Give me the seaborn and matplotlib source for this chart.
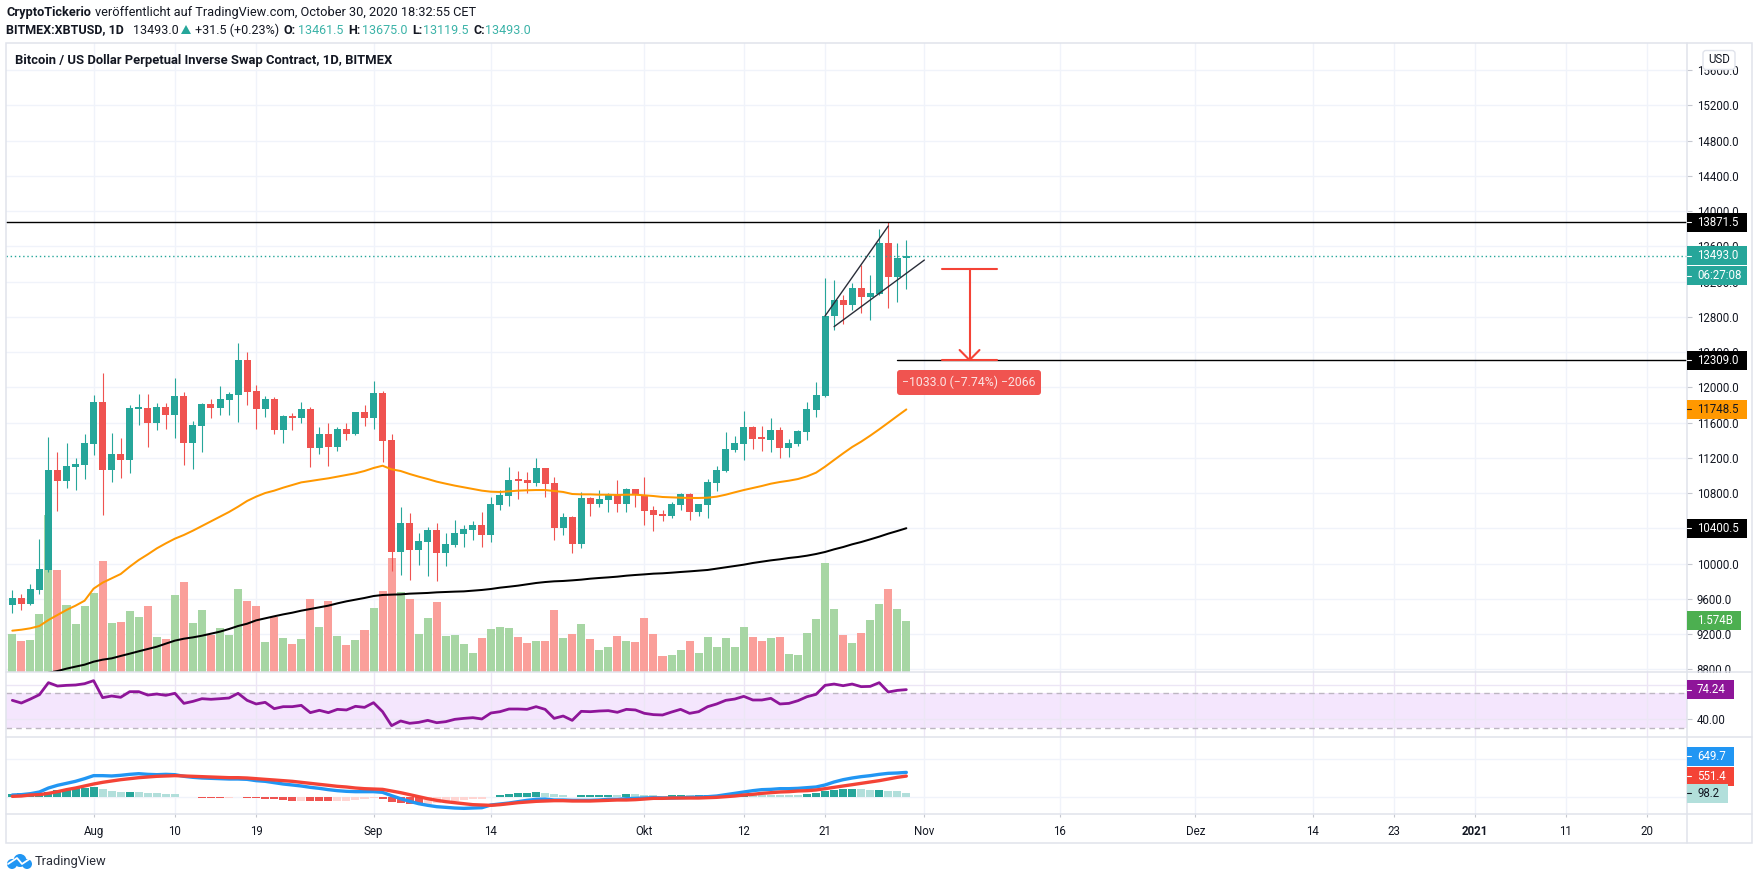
"""Recreate the XBTUSD daily TradingView chart with candles, volume, RSI and MACD."""

from __future__ import annotations

import matplotlib

matplotlib.use("Agg")
import matplotlib.pyplot as plt
import numpy as np
import pandas as pd
import seaborn as sns
from matplotlib.lines import Line2D
from matplotlib.patches import Circle, FancyBboxPatch, Polygon, Rectangle
from matplotlib.transforms import IdentityTransform

sns.set_theme(style="white")
plt.rcParams["font.family"] = ["Roboto", "DejaVu Sans"]

WIDTH, HEIGHT = 1758, 880
LEFT, RIGHT, FRAME_RIGHT = 6, 1687, 1752
TOP, MAIN_BOTTOM, RSI_BOTTOM, MACD_BOTTOM, FRAME_BOTTOM = 43, 672, 737, 814, 843
XLIM = (-0.70, 185.45)
PRICE_LIM = (8769, 15907)
VOLUME_TOP = 19.41

UP, DOWN = "#26a69a", "#ef5350"
GRID, BORDER, INK = "#f0f3fa", "#e0e3eb", "#131722"

# open, high, low, close, starting 23 Jul 2020
OHLC = [
    (9529, 9700, 9438, 9609), (9609, 9654, 9473, 9541), (9541, 9768, 9529, 9711),
    (9700, 10278, 9654, 9938), (9927, 11436, 9900, 11061), (11061, 11266, 10596, 10936),
    (10936, 11368, 10857, 11107), (11095, 11197, 10834, 11129), (11118, 11470, 10959, 11368),
    (11356, 11912, 11232, 11833), (11833, 12162, 10551, 11061), (11061, 11481, 10925, 11243),
    (11243, 11424, 10970, 11175), (11175, 11799, 11027, 11765), (11754, 11924, 11572, 11765),
    (11765, 11924, 11322, 11595), (11595, 11822, 11515, 11776), (11776, 11822, 11527, 11685),
    (11685, 12105, 11424, 11901), (11901, 11946, 11118, 11368), (11368, 11617, 11073, 11572),
    (11561, 11822, 11266, 11810), (11810, 11867, 11651, 11765), (11765, 12015, 11685, 11867),
    (11856, 11946, 11685, 11924), (11912, 12503, 11606, 12310), (12310, 12400, 11799, 11946),
    (11958, 12026, 11527, 11754), (11754, 11901, 11663, 11867), (11867, 11890, 11470, 11515),
    (11515, 11685, 11368, 11674), (11674, 11708, 11515, 11651), (11651, 11833, 11595, 11754),
    (11754, 11776, 11095, 11311), (11311, 11549, 11243, 11470), (11470, 11595, 11107, 11322),
    (11322, 11549, 11277, 11527), (11527, 11595, 11402, 11470), (11470, 11720, 11458, 11720),
    (11720, 11799, 11561, 11651), (11651, 12071, 11527, 11935), (11935, 11958, 11152, 11390),
    (11402, 11470, 9915, 10131), (10131, 10641, 9870, 10460), (10460, 10573, 9813, 10154),
    (10154, 10346, 9983, 10256), (10244, 10414, 9858, 10380), (10380, 10460, 9802, 10119),
    (10119, 10346, 9972, 10222), (10210, 10494, 10190, 10346), (10335, 10437, 10188, 10392),
    (10380, 10483, 10267, 10437), (10437, 10585, 10188, 10324), (10324, 10755, 10244, 10675),
    (10664, 10834, 10607, 10778), (10766, 11095, 10653, 10948), (10948, 11050, 10732, 10936),
    (10948, 11039, 10800, 10914), (10914, 11197, 10880, 11084), (11084, 11084, 10755, 10902),
    (10914, 10982, 10267, 10403), (10403, 10573, 10324, 10528), (10528, 10539, 10119, 10222),
    (10222, 10812, 10176, 10744), (10744, 10755, 10539, 10675), (10675, 10834, 10641, 10732),
    (10721, 10800, 10585, 10778), (10778, 10948, 10585, 10675), (10675, 10857, 10585, 10846),
    (10846, 10846, 10641, 10778), (10778, 10982, 10437, 10596), (10607, 10653, 10369, 10551),
    (10562, 10607, 10483, 10539), (10539, 10698, 10517, 10675), (10664, 10800, 10607, 10789),
    (10789, 10800, 10494, 10585), (10585, 10675, 10539, 10675), (10664, 10959, 10517, 10925),
    (10914, 11107, 10823, 11061), (11050, 11493, 11040, 11300), (11288, 11447, 11266, 11368),
    (11356, 11731, 11175, 11549), (11549, 11561, 11300, 11413), (11424, 11561, 11277, 11413),
    (11402, 11651, 11266, 11515), (11515, 11549, 11197, 11311), (11311, 11413, 11209, 11368),
    (11356, 11515, 11334, 11504), (11493, 11833, 11402, 11754), (11742, 12060, 11663, 11912),
    (11901, 13240, 11893, 12809), (12809, 13217, 12650, 12990), (12990, 13047, 12718, 12934),
    (12934, 13180, 12877, 13127), (13127, 13388, 12847, 13025), (13025, 13274, 12764, 13070),
    (13059, 13796, 13050, 13637), (13637, 13871.5, 12900, 13251), (13251, 13637, 12968, 13467),
    (13461.5, 13675, 13119.5, 13493),
]

VOLUME = [
    1.173, 0.957, 0.988, 1.790, 4.845, 3.148, 2.068, 1.481, 2.037, 2.438,
    3.426, 1.512, 1.543, 1.883, 1.697, 2.037, 1.080, 1.018, 2.376, 2.777,
    1.512, 1.913, 1.142, 1.358, 1.142, 2.561, 2.191, 2.037, 0.926, 1.697,
    1.049, 0.864, 1.018, 2.253, 1.389, 2.191, 1.111, 0.833, 0.988, 1.296,
    1.975, 2.500, 3.518, 2.469, 2.253, 1.173, 1.666, 2.160, 1.111, 1.142,
    0.864, 0.586, 1.049, 1.327, 1.389, 1.358, 1.080, 0.895, 0.957, 0.957,
    1.913, 1.049, 1.173, 1.481, 1.018, 0.679, 0.772, 1.111, 0.957, 0.926,
    1.666, 1.173, 0.494, 0.525, 0.679, 0.957, 0.586, 1.080, 0.772, 1.049,
    0.772, 1.389, 1.080, 0.957, 1.049, 1.080, 0.556, 0.525, 1.204, 1.636,
    3.364, 1.944, 1.142, 0.895, 1.204, 1.605, 2.099, 2.561, 1.944, 1.574,
]

EMA_50 = [
    9238, 9249, 9265, 9291, 9359, 9416, 9473, 9522, 9578, 9715,
    9783, 9832, 9881, 9964, 10040, 10104, 10172, 10229, 10282, 10324,
    10373, 10426, 10479, 10532, 10585, 10645, 10710, 10759, 10800, 10827,
    10861, 10891, 10921, 10936, 10952, 10967, 10986, 11005, 11024, 11050,
    11084, 11110, 11069, 11050, 11016, 10986, 10959, 10929, 10906, 10884,
    10865, 10846, 10827, 10815, 10812, 10819, 10827, 10831, 10834, 10834,
    10823, 10812, 10789, 10785, 10785, 10781, 10781, 10778, 10781, 10781,
    10774, 10766, 10755, 10751, 10747, 10744, 10744, 10747, 10759, 10781,
    10808, 10834, 10857, 10880, 10906, 10925, 10940, 10959, 10989, 11031,
    11099, 11175, 11250, 11322, 11383, 11451, 11523, 11598, 11674, 11748.5,
]

# the first days of the long average sit under the pane
EMA_200 = [
    np.nan, np.nan, np.nan, np.nan, 8761, 8780, 8807, 8830, 8852, 8886,
    8909, 8924, 8951, 8977, 9004, 9030, 9056, 9091, 9125, 9147,
    9162, 9181, 9204, 9227, 9257, 9291, 9317, 9355, 9378, 9401,
    9423, 9442, 9465, 9484, 9503, 9522, 9548, 9571, 9590, 9609,
    9631, 9643, 9647, 9650, 9658, 9662, 9666, 9673, 9677, 9681,
    9684, 9692, 9700, 9711, 9726, 9737, 9749, 9764, 9779, 9790,
    9798, 9802, 9809, 9817, 9828, 9836, 9843, 9851, 9862, 9870,
    9877, 9885, 9889, 9896, 9904, 9911, 9919, 9927, 9942, 9957,
    9972, 9987, 10006, 10021, 10036, 10048, 10063, 10074, 10089, 10108,
    10131, 10161, 10187, 10218, 10244, 10274, 10305, 10339, 10369, 10400.5,
]

RSI = [
    61.9, 58.8, 63.4, 68.4, 82.3, 78.4, 79.2, 79.6, 81.1, 84.6,
    65.0, 66.9, 65.4, 71.9, 71.9, 68.0, 69.2, 67.7, 70.0, 58.4,
    60.7, 63.8, 63.1, 63.8, 64.6, 70.0, 61.9, 57.7, 59.6, 52.3,
    54.6, 54.6, 56.1, 47.7, 50.4, 47.7, 51.5, 50.8, 55.0, 53.8,
    59.2, 48.8, 32.7, 38.1, 35.4, 36.5, 38.8, 36.1, 37.3, 40.0,
    41.1, 41.9, 40.4, 47.3, 48.8, 51.9, 51.9, 51.5, 54.6, 51.5,
    41.1, 43.8, 38.8, 49.2, 48.8, 49.6, 50.0, 48.1, 51.5, 50.8,
    46.9, 45.4, 45.0, 48.4, 51.5, 46.9, 48.8, 54.6, 57.7, 61.9,
    63.4, 66.5, 62.3, 62.3, 64.2, 57.7, 58.4, 61.5, 66.1, 68.8,
    79.2, 80.7, 78.8, 80.7, 77.7, 78.0, 82.3, 71.5, 73.4, 74.24,
]

MACD = [
    45, 54, 80, 125, 232, 304, 357, 411, 482, 563,
    563, 554, 572, 598, 616, 598, 589, 598, 589, 545,
    518, 500, 491, 482, 473, 473, 464, 429, 411, 375,
    339, 313, 286, 250, 223, 188, 161, 143, 134, 134,
    134, 116, 27, -54, -125, -188, -232, -268, -286, -304,
    -313, -304, -295, -223, -196, -170, -134, -98, -71, -63,
    -89, -89, -98, -98, -98, -89, -71, -71, -54, -45,
    -36, -27, -36, -36, -27, -18, -9, 0, 18, 54,
    89, 125, 161, 188, 196, 214, 214, 223, 241, 259,
    313, 393, 455, 500, 536, 563, 598, 625, 634, 649.7,
]

SIGNAL = [
    9, 18, 45, 54, 89, 134, 188, 232, 286, 339,
    384, 420, 455, 482, 509, 527, 545, 554, 563, 554,
    545, 536, 527, 518, 509, 509, 500, 482, 464, 447,
    429, 411, 384, 357, 330, 304, 277, 259, 232, 214,
    205, 196, 152, 107, 54, 0, -54, -98, -134, -161,
    -188, -214, -223, -232, -214, -188, -161, -143, -125, -116,
    -107, -107, -116, -116, -116, -107, -98, -89, -89, -80,
    -63, -45, -45, -36, -36, -36, -36, -27, -18, 0,
    18, 45, 63, 89, 107, 125, 134, 152, 161, 179,
    214, 250, 286, 321, 357, 393, 429, 473, 518, 551.4,
]

HISTOGRAM = [
    80, 90, 100, 110, 125, 180, 205, 225, 240, 259,
    205, 152, 125, 130, 125, 98, 95, 71, 68, -10,
    -20, -25, -30, -35, -30, -15, -30, -45, -60, -75,
    -90, -115, -105, -118, -120, -122, -115, -110, -85, -60,
    -40, -55, -150, -170, -195, -200, -195, -170, -125, -110,
    -90, -75, -55, -10, 45, 72, 98, 100, 125, 98,
    72, 45, -10, 45, 47, 49, 50, 45, 72, 70,
    45, 42, 25, 45, 47, 45, 47, 49, 55, 60,
    62, 65, 60, 58, 56, 54, 50, 48, 62, 98,
    152, 180, 205, 206, 200, 180, 182, 155, 150, 98.2,
]

# (bar index, label) for the time axis; index 9 is 1 Aug 2020
TIME_TICKS = [
    (9, "Aug"), (18, "10"), (27, "19"), (40, "Sep"), (53, "14"), (70, "Okt"),
    (81, "12"), (90, "21"), (101, "Nov"), (116, "16"), (131, "Dez"), (144, "14"),
    (153, "23"), (162, "2021"), (172, "11"), (181, "20"),
]


def build_frame() -> pd.DataFrame:
    df = pd.DataFrame(OHLC, columns=["open", "high", "low", "close"])
    df["bar"] = np.arange(len(df))
    df["volume"] = VOLUME
    df["ema50"] = EMA_50
    df["ema200"] = EMA_200
    df["rsi"] = RSI
    df["macd"] = MACD
    df["signal"] = SIGNAL
    df["hist"] = HISTOGRAM
    df["side"] = np.where(df["close"] >= df["open"], "up", "down")
    prev = df["hist"].shift(1, fill_value=0)
    df["shade"] = np.select(
        [
            (df["hist"] >= 0) & (df["hist"] > prev),
            df["hist"] >= 0,
            df["hist"] < prev,
        ],
        ["rise", "fade", "drop"],
        default="ease",
    )
    return df


def add_pane(fig: plt.Figure, top: int, bottom: int) -> plt.Axes:
    ax = fig.add_axes(
        [
            LEFT / WIDTH,
            1 - bottom / HEIGHT,
            (RIGHT - LEFT) / WIDTH,
            (bottom - top) / HEIGHT,
        ]
    )
    ax.set_xlim(*XLIM)
    sns.despine(ax=ax, left=True, bottom=True)
    return ax


def style_pane(ax: plt.Axes, yticks: list[float], labels: list[str]) -> None:
    ax.set_xlim(*XLIM)
    ax.set_xlabel("")
    ax.set_ylabel("")
    ax.set_yticks(yticks)
    ax.set_yticklabels(labels)
    ax.yaxis.tick_right()
    ax.tick_params(
        axis="y",
        right=True,
        left=False,
        length=3.4,
        width=0.8,
        pad=3.6,
        color="#c4c7cf",
        labelcolor=INK,
        labelsize=8.3,
    )
    ax.set_xticks([t for t, _ in TIME_TICKS])
    ax.set_xticklabels([])
    ax.tick_params(axis="x", bottom=False)
    ax.grid(True, color=GRID, lw=1.0)
    ax.set_axisbelow(True)


def px_text(fig: plt.Figure, x: float, y: float, s: str, **kwargs) -> None:
    """Place text by reference pixels, y measured from the top."""
    kwargs.setdefault("va", "center")
    kwargs.setdefault("color", INK)
    kwargs.setdefault("zorder", 7)
    fig.text(x, HEIGHT - y, s, transform=IdentityTransform(), **kwargs)


def price_tag(
    fig: plt.Figure,
    ax: plt.Axes,
    value: float,
    label: str,
    color: str,
    width: int,
    text_color: str = "white",
    shift: float = 0,
) -> None:
    """Coloured tag on the price scale, anchored to a value on that pane's axis."""
    y = ax.transData.transform((0, value))[1] + shift
    fig.add_artist(
        Rectangle(
            (RIGHT, y - 9.5),
            width,
            19,
            facecolor=color,
            edgecolor="none",
            transform=IdentityTransform(),
            zorder=6,
        )
    )
    fig.add_artist(
        Line2D(
            [RIGHT, RIGHT + 4],
            [y, y],
            color=text_color,
            lw=0.8,
            transform=IdentityTransform(),
            zorder=7,
        )
    )
    px_text(fig, RIGHT + 10, HEIGHT - y, label, color=text_color, fontsize=8.3)


def draw_main(fig: plt.Figure, df: pd.DataFrame) -> plt.Axes:
    ax_vol = add_pane(fig, TOP, MAIN_BOTTOM)
    ax_vol.set_zorder(-3)
    sns.barplot(
        data=df,
        x="bar",
        y="volume",
        hue="side",
        palette={"up": "#a7d6a4", "down": "#fa9f9a"},
        dodge=False,
        native_scale=True,
        width=0.89,
        saturation=1,
        linewidth=0,
        errorbar=None,
        legend=False,
        ax=ax_vol,
    )
    ax_vol.set_ylim(0, VOLUME_TOP)
    price_ticks = np.arange(8800, 15601, 400)
    span = PRICE_LIM[1] - PRICE_LIM[0]
    style_pane(ax_vol, list((price_ticks - PRICE_LIM[0]) / span * VOLUME_TOP), [""] * len(price_ticks))
    ax_vol.tick_params(axis="y", right=False, labelright=False)

    ax = add_pane(fig, TOP, MAIN_BOTTOM)
    ax.set_zorder(-2)
    ax.patch.set_visible(False)
    ax.set_ylim(*PRICE_LIM)

    colors = np.where(df["side"] == "up", UP, DOWN)
    ax.vlines(df["bar"], df["low"], df["high"], colors=colors, lw=0.8)
    bottoms = df[["open", "close"]].min(axis=1)
    heights = (df["close"] - df["open"]).abs().clip(lower=22)
    ax.bar(df["bar"], heights, bottom=bottoms, width=0.775, color=colors, lw=0)

    sns.lineplot(data=df, x="bar", y="ema50", color="#ff9800", lw=1.45, estimator=None, ax=ax)
    sns.lineplot(data=df, x="bar", y="ema200", color="#000000", lw=1.45, estimator=None, ax=ax)

    ax.axhline(13871.5, color="black", lw=1.0)
    ax.axhline(13493, color=UP, lw=1.0, ls=(0, (1, 2)))
    ax.plot([98, XLIM[1]], [12309, 12309], color="black", lw=1.0)

    # rising wedge
    ax.plot([90, 97], [12809, 13830], color="#2a2e39", lw=1.0)
    ax.plot([91, 101], [12688, 13444], color="#2a2e39", lw=1.0)

    # measured move
    red = "#f44336"
    ax.plot([103, 109], [13342, 13342], color=red, lw=1.5)
    ax.plot([103, 109], [12309, 12309], color=red, lw=1.5)
    ax.plot([106, 106], [13342, 12309], color=red, lw=1.5)
    ax.plot([104.9, 106, 107.1], [12423, 12309, 12423], color=red, lw=1.5)

    # 10400 is fully behind its tag in the reference, so no label for it
    labels = ["" if t == 10400 else f"{t:.1f}" for t in price_ticks]
    style_pane(ax, list(price_ticks), labels)
    ax.grid(False)
    return ax


def draw_rsi(fig: plt.Figure, df: pd.DataFrame) -> plt.Axes:
    ax = add_pane(fig, MAIN_BOTTOM, RSI_BOTTOM)
    ax.axhspan(30, 70, color="#f4e6fd", lw=0, zorder=0.5)
    ax.axhline(70, color="#bdb6c2", lw=1.0, ls=(0, (4, 3)))
    ax.axhline(30, color="#bdb6c2", lw=1.0, ls=(0, (4, 3)))
    sns.lineplot(data=df, x="bar", y="rsi", color="#8e1599", lw=2.0, estimator=None, ax=ax)
    ax.set_ylim(19.6, 94.6)
    style_pane(ax, [40, 80], ["40.00", ""])
    ax.grid(True, color="#ece6f5", lw=1.0)
    return ax


def draw_macd(fig: plt.Figure, df: pd.DataFrame) -> plt.Axes:
    ax = add_pane(fig, RSI_BOTTOM, MACD_BOTTOM)
    sns.barplot(
        data=df,
        x="bar",
        y="hist",
        hue="shade",
        palette={"rise": UP, "fade": "#b2dfdb", "drop": DOWN, "ease": "#ffd5d2"},
        dodge=False,
        native_scale=True,
        width=0.89,
        saturation=1,
        linewidth=0,
        errorbar=None,
        legend=False,
        ax=ax,
    )
    sns.lineplot(data=df, x="bar", y="macd", color="#2196f3", lw=2.4, estimator=None, ax=ax)
    sns.lineplot(data=df, x="bar", y="signal", color="#f44336", lw=2.4, estimator=None, ax=ax)
    ax.set_ylim(-464, 1598)
    style_pane(ax, [0, 1000], ["", ""])
    ax.set_xticklabels([label for _, label in TIME_TICKS])
    ax.tick_params(
        axis="x",
        bottom=True,
        length=2.2,
        width=0.8,
        color="#c4c7cf",
        pad=6,
        labelsize=8.3,
        labelcolor=INK,
    )
    for label in ax.get_xticklabels():
        if label.get_text() == "2021":
            label.set_fontweight("bold")
    return ax


def draw_frame(fig: plt.Figure) -> None:
    transform = IdentityTransform()
    fig.add_artist(
        Rectangle(
            (RIGHT + 1, HEIGHT - RSI_BOTTOM + 1),
            FRAME_RIGHT - RIGHT - 2,
            RSI_BOTTOM - MAIN_BOTTOM - 2,
            facecolor="white",
            edgecolor="none",
            transform=transform,
            zorder=-1,
        )
    )
    fig.add_artist(
        Rectangle(
            (LEFT, HEIGHT - FRAME_BOTTOM),
            FRAME_RIGHT - LEFT,
            FRAME_BOTTOM - TOP,
            facecolor="none",
            edgecolor=BORDER,
            lw=1.1,
            transform=transform,
            zorder=5,
        )
    )
    for y in (MAIN_BOTTOM, RSI_BOTTOM, MACD_BOTTOM):
        fig.add_artist(
            Line2D(
                [LEFT, FRAME_RIGHT],
                [HEIGHT - y, HEIGHT - y],
                color=BORDER,
                lw=1.1,
                transform=transform,
                zorder=5,
            )
        )
    fig.add_artist(
        Line2D(
            [RIGHT, RIGHT],
            [HEIGHT - FRAME_BOTTOM, HEIGHT - TOP],
            color=BORDER,
            lw=1.1,
            transform=transform,
            zorder=5,
        )
    )


def draw_header(fig: plt.Figure) -> None:
    transform = IdentityTransform()
    px_text(fig, 6.5, 12.5, "CryptoTickerio", fontsize=9.2, fontweight="bold")
    px_text(
        fig,
        95,
        12.5,
        "veröffentlicht auf TradingView.com, October 30, 2020 18:32:55 CET",
        fontsize=9.15,
    )
    teal = "#3bb3a8"
    row = 30
    for x, text, color, weight in [
        (6.5, "BITMEX:XBTUSD, 1D", INK, "bold"),
        (133, "13493.0", INK, "normal"),
        (195, "+31.5 (+0.23%)", INK, "normal"),
        (284, "O:", INK, "bold"),
        (298, "13461.5", teal, "normal"),
        (348, "H:", INK, "bold"),
        (362.4, "13675.0", teal, "normal"),
        (412, "L:", INK, "bold"),
        (423, "13119.5", teal, "normal"),
        (473.4, "C:", INK, "bold"),
        (485, "13493.0", teal, "normal"),
    ]:
        px_text(fig, x, row, text, fontsize=9.0, color=color, fontweight=weight)
    fig.add_artist(
        Polygon(
            [(181, HEIGHT - 34), (191, HEIGHT - 34), (186, HEIGHT - 25)],
            facecolor=UP,
            edgecolor="none",
            transform=transform,
            zorder=7,
        )
    )
    px_text(
        fig,
        15.3,
        60.5,
        "Bitcoin / US Dollar Perpetual Inverse Swap Contract, 1D, BITMEX",
        fontsize=9.4,
        fontweight="bold",
    )


def draw_overlays(fig: plt.Figure) -> None:
    transform = IdentityTransform()
    # measured move label
    fig.add_artist(
        FancyBboxPatch(
            (900, HEIGHT - 392),
            138,
            19,
            boxstyle="round,pad=3,rounding_size=3",
            facecolor="#f05450",
            edgecolor="none",
            transform=transform,
            zorder=6,
        )
    )
    px_text(
        fig,
        969,
        382,
        "\u22121033.0 (\u22127.74%) \u22122066",
        color="#fbe4e3",
        ha="center",
        fontsize=8.8,
    )
    # currency button
    fig.add_artist(
        FancyBboxPatch(
            (1705, HEIGHT - 67.5),
            28,
            15,
            boxstyle="round,pad=2,rounding_size=3",
            facecolor="white",
            edgecolor=BORDER,
            lw=1.0,
            transform=transform,
            zorder=6,
        )
    )
    px_text(fig, 1719, 59, "USD", ha="center", fontsize=8.3)

    # TradingView logo, cloud with a white zigzag
    blue = "#2196f3"
    for cx, cy, r in [(12, 864, 5), (20, 860.5, 6.5), (27, 864, 5)]:
        fig.add_artist(
            Circle((cx, HEIGHT - cy), r, facecolor=blue, edgecolor="none", transform=transform)
        )
    fig.add_artist(
        Line2D(
            [8, 17, 22, 31],
            [HEIGHT - 864, HEIGHT - 858, HEIGHT - 864, HEIGHT - 858],
            color="white",
            lw=1.3,
            transform=transform,
            zorder=3,
        )
    )
    px_text(fig, 34.3, 861.5, "TradingView", fontsize=9.3, color="#2a2e39")


def main() -> None:
    df = build_frame()
    fig = plt.figure(figsize=(WIDTH / 100, HEIGHT / 100), dpi=100, facecolor="white")

    ax_main = draw_main(fig, df)
    ax_rsi = draw_rsi(fig, df)
    ax_macd = draw_macd(fig, df)
    draw_frame(fig)
    draw_header(fig)
    draw_overlays(fig)

    price_tag(fig, ax_main, 13871.5, "13871.5", "#000000", 60)
    price_tag(fig, ax_main, 13493, "13493.0", UP, 60)
    price_tag(fig, ax_main, 13493, "06:27:08", UP, 60, shift=-20)
    price_tag(fig, ax_main, 12309, "12309.0", "#000000", 60)
    price_tag(fig, ax_main, 11748.5, "11748.5", "#ff9800", 60, text_color="#131722")
    price_tag(fig, ax_main, 10400.5, "10400.5", "#000000", 60)
    price_tag(fig, ax_rsi, 74.24, "74.24", "#8e1599", 47)
    price_tag(fig, ax_macd, 649.7, "649.7", "#2196f3", 47, shift=16)
    price_tag(fig, ax_macd, 551.4, "551.4", "#f44336", 47)
    price_tag(fig, ax_macd, 98.2, "98.2", "#b2dfdb", 41, text_color="#131722")

    # volume tag reads off the price pane position of the last bar
    y_vol = HEIGHT - MAIN_BOTTOM + df["volume"].iloc[-1] / VOLUME_TOP * (MAIN_BOTTOM - TOP)
    fig.add_artist(
        Rectangle(
            (RIGHT, y_vol - 9.5),
            54,
            19,
            facecolor="#4caf50",
            edgecolor="none",
            transform=IdentityTransform(),
            zorder=6,
        )
    )
    px_text(fig, RIGHT + 10, HEIGHT - y_vol, "1.574B", color="white", fontsize=8.3)

    fig.savefig("out.png", dpi=100)
    plt.close(fig)


if __name__ == "__main__":
    main()
